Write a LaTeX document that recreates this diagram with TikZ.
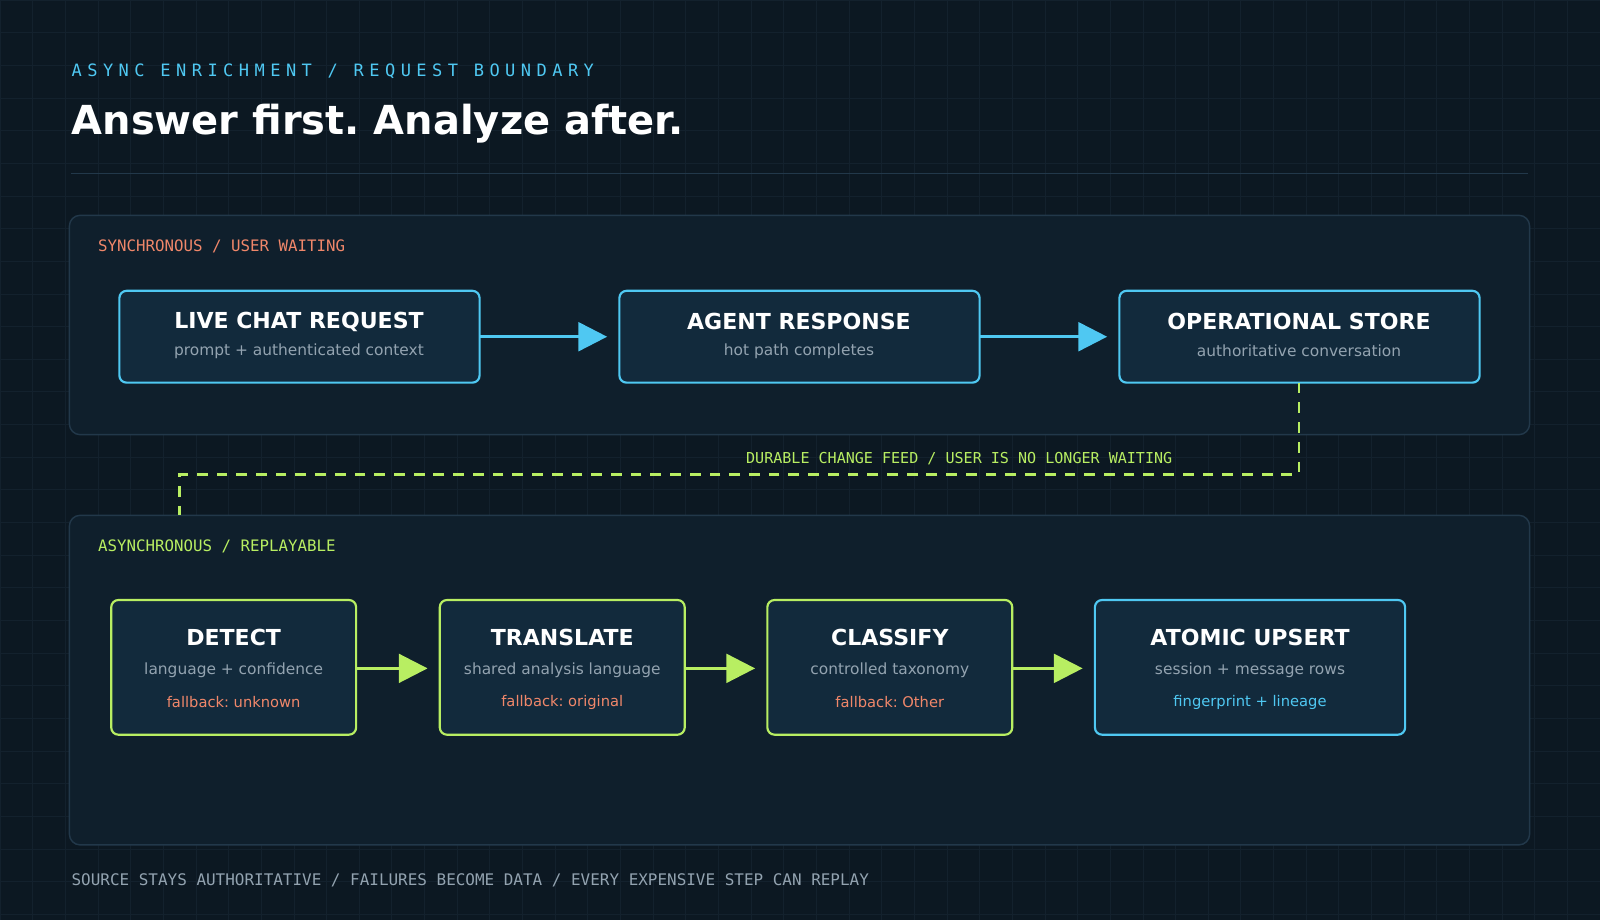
\documentclass[tikz,border=0pt]{standalone}
\usepackage{fontspec}
\setmainfont{DejaVu Sans}
\newfontfamily\monofont{DejaVu Sans Mono}
\newfontfamily\spacedfont[LetterSpace=32]{DejaVu Sans Mono}
\usetikzlibrary{arrows.meta}
\frenchspacing
\definecolor{bgcol}{HTML}{0C1822}
\definecolor{gridcol}{HTML}{13212D}
\definecolor{panelcol}{HTML}{0F1F2C}
\definecolor{panelline}{HTML}{22384A}
\definecolor{boxcol}{HTML}{122A3C}
\definecolor{cyanc}{HTML}{4FC8F2}
\definecolor{limec}{HTML}{B8EE62}
\definecolor{salmon}{HTML}{F0876A}
\definecolor{greyt}{HTML}{93A3B0}
\tikzset{
  panel/.style={fill=panelcol,draw=panelline,rounded corners=6pt,line width=0.8pt},
  topbox/.style={fill=boxcol,draw=cyanc,rounded corners=4pt,line width=1.2pt},
  botbox/.style={fill=boxcol,draw=limec,rounded corners=4pt,line width=1.2pt},
  head/.style={text=white,font=\bfseries\fontsize{12.3}{14}\selectfont},
  sub/.style={text=greyt,font=\fontsize{8.6}{10}\selectfont},
  fall/.style={text=#1,font=\fontsize{8.2}{10}\selectfont},
  flow/.style={draw=#1,line width=1.6pt,-{Triangle[length=16pt,width=16pt]}},
}
\begin{document}
\begin{tikzpicture}[x=0.02cm,y=-0.02cm]
\fill[bgcol] (0,0) rectangle (1568,902);
\useasboundingbox (0,0) rectangle (1568,902);
\foreach \gx in {0,32,...,1568} \draw[gridcol,line width=0.4pt] (\gx,0)--(\gx,902);
\foreach \gy in {0,32,...,902} \draw[gridcol,line width=0.4pt] (0,\gy)--(1568,\gy);

% header
\node[anchor=west,text=cyanc,font=\spacedfont\fontsize{9.5}{11}\selectfont] (kicker) at (64,70) {ASYNC ENRICHMENT / REQUEST BOUNDARY};
\node[anchor=west,text=white,font=\bfseries\fontsize{22.3}{27}\selectfont] (title) at (64,121) {Answer first. Analyze after.};
\draw[panelline,line width=0.8pt] (70,170)--(1497,170);

% panels
\draw[panel] (68,211) rectangle (1499,426);
\draw[panel] (68,505) rectangle (1499,828);
\node[anchor=west,text=salmon,font=\monofont\fontsize{8.8}{11}\selectfont] (synclbl) at (90,241) {SYNCHRONOUS / USER WAITING};
\node[anchor=west,text=limec,font=\monofont\fontsize{8.8}{11}\selectfont] (asynclbl) at (90,535) {ASYNCHRONOUS / REPLAYABLE};

% synchronous path
\draw[topbox] (117,285) rectangle (470,375);
\draw[topbox] (607,285) rectangle (960,375);
\draw[topbox] (1097,285) rectangle (1450,375);
\node[head] (liveh) at (293,315) {LIVE CHAT REQUEST};
\node[sub] (lives) at (293,344) {prompt + authenticated context};
\node[head] (agenth) at (783,315) {AGENT RESPONSE};
\node[sub] (agents) at (783,344) {hot path completes};
\node[head] (storeh) at (1273,315) {OPERATIONAL STORE};
\node[sub] (stores) at (1273,344) {authoritative conversation};
\draw[flow=cyanc] (470,330)--(595,330);
\draw[flow=cyanc] (960,330)--(1085,330);

% change feed
\coordinate (feedtop) at (1273,375);
\coordinate (feedbot) at (176,505);
\draw[limec,line width=1.4pt,dash pattern=on 6pt off 5pt] (feedtop)--(1273,465)--(176,465)--(feedbot);
\node[text=limec,font=\monofont\fontsize{8.4}{10}\selectfont] (feedlbl) at (940,449) {DURABLE CHANGE FEED / USER IS NO LONGER WAITING};

% asynchronous path
\draw[botbox] (109,588) rectangle (349,720);
\draw[botbox] (431,588) rectangle (671,720);
\draw[botbox] (752,588) rectangle (992,720);
\draw[topbox] (1073,588) rectangle (1377,720);
\node[head] (deth) at (229,625) {DETECT};
\node[sub] (dets) at (229,657) {language + confidence};
\node[fall=salmon] (detf) at (229,688) {fallback: unknown};
\node[head] (trah) at (551,625) {TRANSLATE};
\node[sub] (tras) at (551,657) {shared analysis language};
\node[fall=salmon] (traf) at (551,688) {fallback: original};
\node[head] (clah) at (872,625) {CLASSIFY};
\node[sub] (clas) at (872,657) {controlled taxonomy};
\node[fall=salmon] (claf) at (872,688) {fallback: Other};
\node[head] (upsh) at (1225,625) {ATOMIC UPSERT};
\node[sub] (upss) at (1225,657) {session + message rows};
\node[fall=cyanc] (upsf) at (1225,688) {fingerprint + lineage};
\draw[flow=limec] (349,655)--(419,655);
\draw[flow=limec] (671,655)--(740,655);
\draw[flow=limec] (992,655)--(1061,655);

% footer
\node[anchor=west,text=greyt,font=\monofont\fontsize{8.9}{11}\selectfont] (footer) at (64,863) {SOURCE STAYS AUTHORITATIVE / FAILURES BECOME DATA / EVERY EXPENSIVE STEP CAN REPLAY};
\end{tikzpicture}
\end{document}
